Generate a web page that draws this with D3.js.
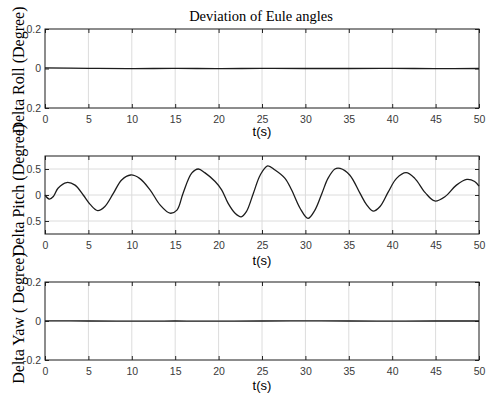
<!DOCTYPE html>
<html>
<head>
<meta charset="utf-8">
<script src="https://cdn.jsdelivr.net/npm/d3@7"></script>
<style>
  body { margin: 0; background: #fff; }
  svg { display: block; }
  .tick text { font-family: "Liberation Sans", Arial, sans-serif; font-size: 10.5px; fill: #3a3a3a; }
</style>
</head>
<body>
<svg id="chart" width="502" height="395"></svg>
<script>
// time ticks shared by every panel
var timeTicks = [0, 5, 10, 15, 20, 25, 30, 35, 40, 45, 50];

// Delta Roll (deg) - almost flat
var rollTime = [0, 5, 10, 15, 20, 25, 30, 35, 40, 45, 50];
var rollValues = [0.003, 0.001, -0.001, 0.001, -0.001, 0.001, 0.0, 0.0, 0.001, -0.001, 0.0];

// Delta Pitch (deg)
var pitchTime = [0, 0.5, 0.96, 1.5, 2.5, 3.46, 4.4, 5.2, 6.07, 6.9, 7.87, 8.83, 9.87, 10.9, 12.1, 13.25, 14.4, 15.2, 15.9, 16.9,
  17.66, 18.4, 19.6, 20.35, 21.1, 21.9, 22.6, 23.2, 24.0, 24.8, 25.65, 26.5, 27.65, 28.4, 29.4, 30.3, 31.1, 31.9, 32.6, 33.4,
  34.0, 35.1, 36.3, 37.06, 37.8, 38.6, 39.55, 40.5, 41.6, 42.6, 43.8, 44.9, 46.1, 47.4, 48.6, 49.5, 50];
var pitchValues = [0.0, -0.08, -0.03, 0.13, 0.24, 0.19, 0.0, -0.18, -0.30, -0.22, 0.03, 0.29, 0.385, 0.32, 0.1, -0.19, -0.35, -0.29, 0.03, 0.42,
  0.5, 0.43, 0.26, 0.1, -0.16, -0.35, -0.42, -0.32, 0.03, 0.385, 0.56, 0.48, 0.32, 0.1, -0.26, -0.45, -0.29, 0.03, 0.32, 0.5,
  0.51, 0.385, 0.03, -0.19, -0.31, -0.22, 0.06, 0.32, 0.43, 0.32, 0.045, -0.115, -0.03, 0.19, 0.30, 0.26, 0.17];

// Delta Yaw (deg) - almost flat
var yawTime = [0, 5, 10, 15, 20, 25, 30, 35, 40, 45, 50];
var yawValues = [0.001, 0.0, -0.001, 0.0, -0.001, 0.0, 0.001, 0.0, -0.001, 0.0, 0.0];

var roll = rollTime.map((t, i) => ({ t: t, v: rollValues[i] }));
var pitch = pitchTime.map((t, i) => ({ t: t, v: pitchValues[i] }));
var yaw = yawTime.map((t, i) => ({ t: t, v: yawValues[i] }));

var panels = [
  { data: roll, label: "Delta Roll (Degree)", top: 29, bottom: 108, domain: [-0.2, 0.2],
    ticks: [-0.2, 0, 0.2], tickText: ["0.2", "0", "0.2"], labelY: 70, xlabY: 136 },
  { data: pitch, label: "Delta Pitch (Degree)", top: 156, bottom: 234, domain: [-0.75, 0.75],
    ticks: [-0.5, 0, 0.5], tickText: ["0.5", "0", "0.5"], labelY: 190, xlabY: 265 },
  { data: yaw, label: "Delta Yaw ( Degree)", top: 282, bottom: 360, domain: [-0.2, 0.2],
    ticks: [-0.2, 0, 0.2], tickText: ["-0.2", "0", "0.2"], labelY: 318, xlabY: 390 }
];

var left = 45, right = 479;
var svg = d3.select("#chart");

var xScale = d3.scaleLinear().domain([0, 50]).range([left, right]);

svg.append("text")
   .attr("x", 261)
   .attr("y", 21)
   .attr("text-anchor", "middle")
   .style("font-family", "'Liberation Serif', 'Times New Roman', serif")
   .style("font-size", "14.5px")
   .text("Deviation of Eule angles");

panels.forEach(function(p) {
  var yScale = d3.scaleLinear().domain(p.domain).range([p.bottom, p.top]);
  var g = svg.append("g");

  // grid
  g.selectAll(".vgrid").data(timeTicks.slice(1, -1)).enter()
   .append("line")
   .attr("x1", d => xScale(d)).attr("x2", d => xScale(d))
   .attr("y1", p.top).attr("y2", p.bottom)
   .attr("stroke", "#dcdcdc").attr("stroke-width", 1);
  g.selectAll(".hgrid").data(p.ticks.filter(d => yScale(d) > p.top + 1 && yScale(d) < p.bottom - 1)).enter()
   .append("line")
   .attr("x1", left).attr("x2", right)
   .attr("y1", d => yScale(d)).attr("y2", d => yScale(d))
   .attr("stroke", "#dcdcdc").attr("stroke-width", 1);

  // axes
  var xAxisBottom = d3.axisBottom(xScale).tickValues(timeTicks).tickSizeInner(-4).tickSizeOuter(0).tickPadding(8);
  var xAxisTop = d3.axisTop(xScale).tickValues(timeTicks).tickSizeInner(-4).tickSizeOuter(0).tickFormat("");
  var yAxisLeft = d3.axisLeft(yScale).tickValues(p.ticks).tickSizeInner(-4).tickSizeOuter(0).tickPadding(4)
                    .tickFormat((d, i) => p.tickText[i]);
  var yAxisRight = d3.axisRight(yScale).tickValues(p.ticks).tickSizeInner(-4).tickSizeOuter(0).tickFormat("");

  [
    g.append("g").attr("transform", `translate(0,${p.bottom})`).call(xAxisBottom),
    g.append("g").attr("transform", `translate(0,${p.top})`).call(xAxisTop),
    g.append("g").attr("transform", `translate(${left},0)`).call(yAxisLeft),
    g.append("g").attr("transform", `translate(${right},0)`).call(yAxisRight)
  ].forEach(function(a) {
    a.select(".domain").remove();
    a.selectAll(".tick line").attr("stroke", "#262626");
  });

  // frame
  g.append("rect")
   .attr("x", left).attr("y", p.top)
   .attr("width", right - left).attr("height", p.bottom - p.top)
   .attr("fill", "none").attr("stroke", "#1a1a1a").attr("stroke-width", 1);

  var line = d3.line()
    .x(d => xScale(d.t))
    .y(d => yScale(d.v))
    .curve(d3.curveCatmullRom.alpha(0.5));

  g.append("path")
   .datum(p.data)
   .attr("d", line)
   .attr("fill", "none")
   .attr("stroke", "#1c1c1c")
   .attr("stroke-width", 1.3);

  g.append("text")
   .attr("x", 262)
   .attr("y", p.xlabY)
   .attr("text-anchor", "middle")
   .style("font-family", "'Liberation Sans', Arial, sans-serif")
   .style("font-size", "13px")
   .text("t(s)");

  g.append("text")
   .attr("transform", `translate(24,${p.labelY}) rotate(-90)`)
   .attr("text-anchor", "middle")
   .style("font-family", "'Liberation Serif', 'Times New Roman', serif")
   .style("font-size", "16px")
   .text(p.label);
});
</script>
</body>
</html>
